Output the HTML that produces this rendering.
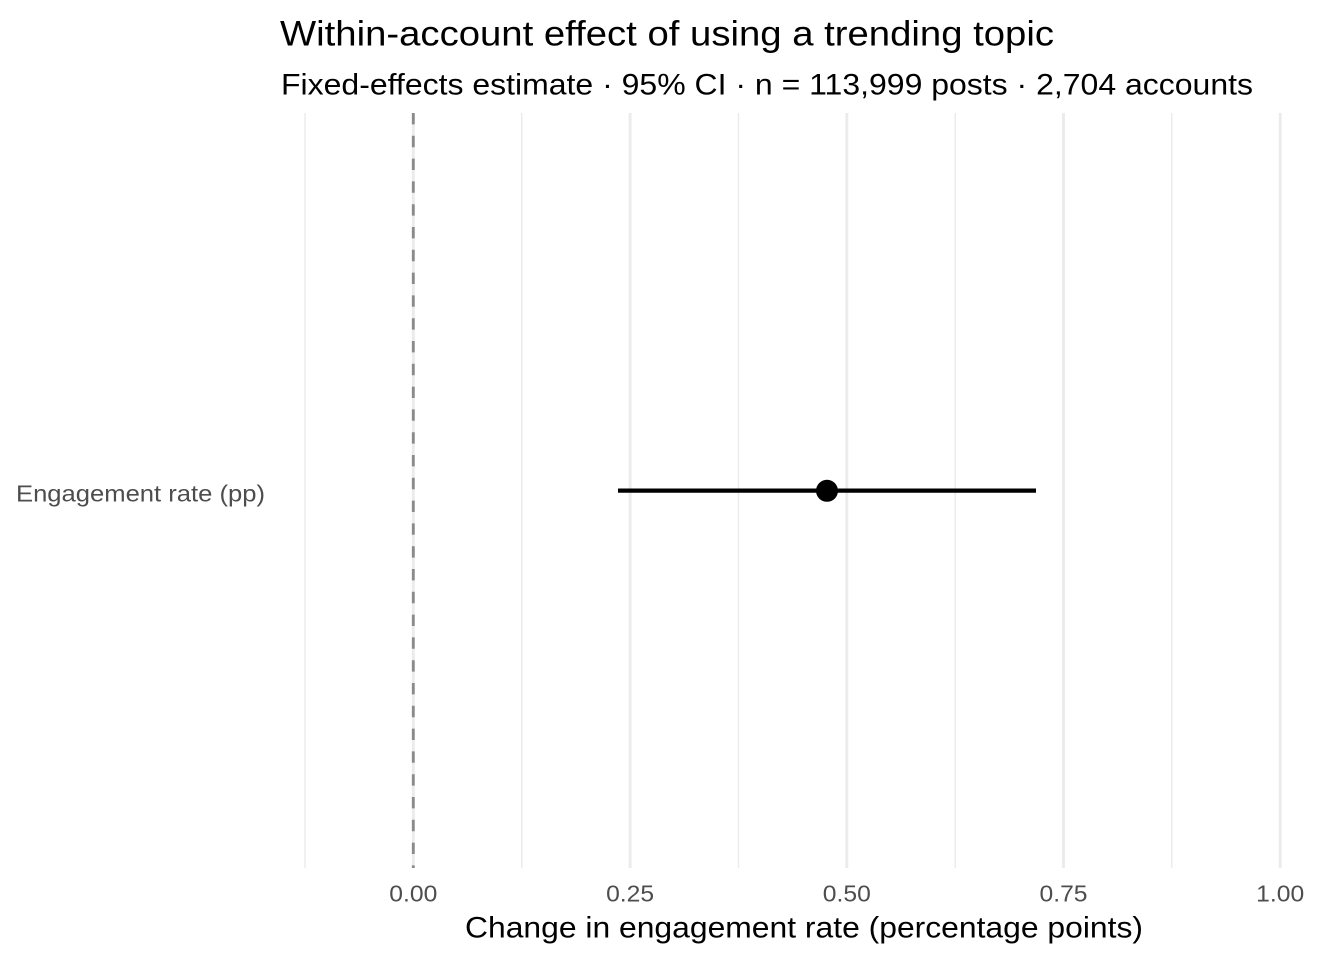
<!DOCTYPE html>
<html>
<head>
<meta charset="utf-8">
<style>
  html, body { margin: 0; padding: 0; background: #ffffff; }
  svg { display: block; }
  text { font-family: "Liberation Sans", Arial, sans-serif; }
</style>
</head>
<body>
<svg width="1344" height="960" viewBox="0 0 1344 960" xmlns="http://www.w3.org/2000/svg">
  <rect x="0" y="0" width="1344" height="960" fill="#ffffff"/>

  <!-- minor gridlines -->
  <g stroke="#ebebeb" stroke-width="1.42">
    <line x1="305" y1="113" x2="305" y2="868"/>
    <line x1="521.7" y1="113" x2="521.7" y2="868"/>
    <line x1="738.5" y1="113" x2="738.5" y2="868"/>
    <line x1="955.2" y1="113" x2="955.2" y2="868"/>
    <line x1="1171.8" y1="113" x2="1171.8" y2="868"/>
  </g>
  <!-- major gridlines -->
  <g stroke="#ebebeb" stroke-width="2.85">
    <line x1="413.3" y1="113" x2="413.3" y2="868"/>
    <line x1="630.1" y1="113" x2="630.1" y2="868"/>
    <line x1="846.8" y1="113" x2="846.8" y2="868"/>
    <line x1="1063.5" y1="113" x2="1063.5" y2="868"/>
    <line x1="1280.2" y1="113" x2="1280.2" y2="868"/>
  </g>

  <!-- zero reference dashed line -->
  <line x1="413.3" y1="113" x2="413.3" y2="868" stroke="#8a8a8a" stroke-width="2.85" stroke-dasharray="11.4 11.4"/>

  <!-- CI -->
  <line x1="618" y1="490.6" x2="1036" y2="490.6" stroke="#000000" stroke-width="4.2"/>
  <!-- point -->
  <circle cx="827" cy="490.8" r="11" fill="#000000"/>

  <!-- y axis label -->
  <text x="16" y="501.5" font-size="23.5" fill="#4d4d4d" textLength="249" lengthAdjust="spacingAndGlyphs">Engagement rate (pp)</text>

  <!-- x tick labels -->
  <g font-size="23.5" fill="#4d4d4d">
    <text x="389.3" y="901.7" textLength="48" lengthAdjust="spacingAndGlyphs">0.00</text>
    <text x="606.1" y="901.7" textLength="48" lengthAdjust="spacingAndGlyphs">0.25</text>
    <text x="822.8" y="901.7" textLength="48" lengthAdjust="spacingAndGlyphs">0.50</text>
    <text x="1039.5" y="901.7" textLength="48" lengthAdjust="spacingAndGlyphs">0.75</text>
    <text x="1256.2" y="901.7" textLength="48" lengthAdjust="spacingAndGlyphs">1.00</text>
  </g>

  <!-- x axis title -->
  <text x="465" y="937.7" font-size="29.33" fill="#000000" textLength="678" lengthAdjust="spacingAndGlyphs">Change in engagement rate (percentage points)</text>

  <!-- title & subtitle -->
  <text x="280" y="45.7" font-size="35.2" fill="#000000" textLength="774" lengthAdjust="spacingAndGlyphs">Within-account effect of using a trending topic</text>
  <text x="281" y="94.3" font-size="29.33" fill="#000000" textLength="972" lengthAdjust="spacingAndGlyphs">Fixed-effects estimate · 95% CI · n = 113,999 posts · 2,704 accounts</text>
</svg>
</body>
</html>
